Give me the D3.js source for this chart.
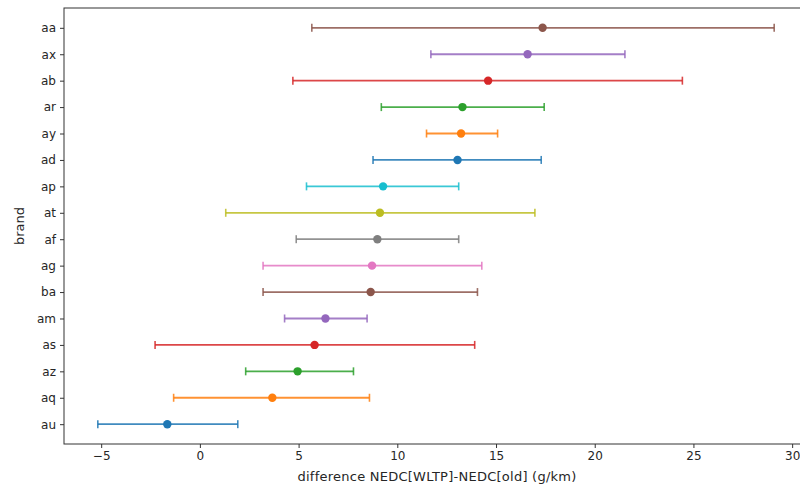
<!DOCTYPE html>
<html>
<head>
<meta charset="utf-8">
<script src="https://cdn.jsdelivr.net/npm/d3@7"></script>
<style>
  body { margin: 0; background: #fff; }
  text { font-family: "DejaVu Sans", sans-serif; fill: #262626; }
</style>
</head>
<body>
<div id="viz"></div>
<script>
// brands, top to bottom as drawn
let brands = ['aa', 'ax', 'ab', 'ar', 'ay', 'ad', 'ap', 'at', 'af', 'ag', 'ba', 'am', 'as', 'az', 'aq', 'au'];

// mean difference and the ends of the error bars
let means = [17.36, 16.6, 14.6, 13.3, 13.23, 13.05, 9.28, 9.12, 8.99, 8.72, 8.65, 6.36, 5.81, 4.95, 3.67, -1.65];
let lows  = [5.67, 11.70, 4.71, 9.19, 11.48, 8.77, 5.40, 1.31, 4.88, 3.2, 3.2, 4.29, -2.27, 2.32, -1.33, -5.17];
let highs = [29.09, 21.53, 24.44, 17.44, 15.08, 17.29, 13.11, 16.97, 13.11, 14.28, 14.06, 8.47, 13.92, 7.78, 8.59, 1.92];

let xTicks = [-5, 0, 5, 10, 15, 20, 25, 30];

// matplotlib default cycle, first colour is the bottom row
let palette = ['#1f77b4', '#ff7f0e', '#2ca02c', '#d62728', '#9467bd',
               '#8c564b', '#e377c2', '#7f7f7f', '#bcbd22', '#17becf'];

let data = brands.map((b, i) => ({ brand: b, mean: means[i], low: lows[i], high: highs[i] }));

let dimensions = {
    width: 800,
    height: 488,
    margins: { top: 8, right: -8, bottom: 44, left: 64 }
};
dimensions.boundedWidth = dimensions.width - dimensions.margins.left - dimensions.margins.right;
dimensions.boundedHeight = dimensions.height - dimensions.margins.top - dimensions.margins.bottom;

const viz = d3.select('#viz').append('svg')
    .attr('width', dimensions.width)
    .attr('height', dimensions.height);

const bounds = viz.append('g')
    .attr('transform', `translate(${dimensions.margins.left},${dimensions.margins.top})`);

// scales, with matplotlib's 5% padding around the data
let xMin = d3.min(lows), xMax = d3.max(highs);
let pad = (xMax - xMin) * 0.05;
const xScale = d3.scaleLinear()
    .domain([xMin - pad, xMax + pad])
    .range([0, dimensions.boundedWidth]);

const yScale = d3.scalePoint()
    .domain(brands)
    .range([0, dimensions.boundedHeight])
    .padding(0.75 * 15 / 16.5 * 1.1);

const colour = (d, i) => palette[(brands.length - 1 - i) % 10];

// error bars
const rows = bounds.selectAll('.row')
    .data(data)
    .join('g')
        .attr('class', 'row')
        .attr('transform', d => `translate(0,${yScale(d.brand)})`)
        .style('stroke', colour);

rows.append('line')
    .attr('x1', d => xScale(d.low))
    .attr('x2', d => xScale(d.high))
    .attr('stroke-width', 1.8)
    .attr('stroke-opacity', 0.85);

rows.selectAll('.cap')
    .data(d => [d.low, d.high])
    .join('line')
        .attr('class', 'cap')
        .attr('x1', d => xScale(d))
        .attr('x2', d => xScale(d))
        .attr('y1', -4)
        .attr('y2', 4)
        .attr('stroke-width', 1.6)
        .attr('stroke-opacity', 0.85);

rows.append('circle')
    .attr('cx', d => xScale(d.mean))
    .attr('r', 4.2)
    .attr('stroke', 'none')
    .attr('fill', colour);

// axes
const xAxis = d3.axisBottom(xScale).tickValues(xTicks).tickSize(4).tickPadding(3)
    .tickFormat(d => d < 0 ? '\u2212' + Math.abs(d) : d);
const yAxis = d3.axisLeft(yScale).tickSize(4).tickPadding(4);

const gx = bounds.append('g')
    .attr('transform', `translate(0,${dimensions.boundedHeight})`)
    .call(xAxis);
const gy = bounds.append('g').call(yAxis);

[gx, gy].forEach(g => {
    g.select('.domain').remove();
    g.selectAll('line').attr('stroke', '#333');
    g.selectAll('text').style('font-size', '12px').attr('fill', '#262626');
});

// frame
bounds.append('rect')
    .attr('width', dimensions.boundedWidth)
    .attr('height', dimensions.boundedHeight)
    .attr('fill', 'none')
    .attr('stroke', '#333')
    .attr('stroke-width', 1);

// labels
bounds.append('text')
    .attr('x', 373)
    .attr('y', dimensions.boundedHeight + 37)
    .attr('text-anchor', 'middle')
    .style('font-size', '13px')
    .style('letter-spacing', '0.25px')
    .text('difference NEDC[WLTP]-NEDC[old] (g/km)');

bounds.append('text')
    .attr('transform', `translate(-40,${dimensions.boundedHeight / 2}) rotate(-90)`)
    .attr('text-anchor', 'middle')
    .style('font-size', '13px')
    .text('brand');
</script>
</body>
</html>
